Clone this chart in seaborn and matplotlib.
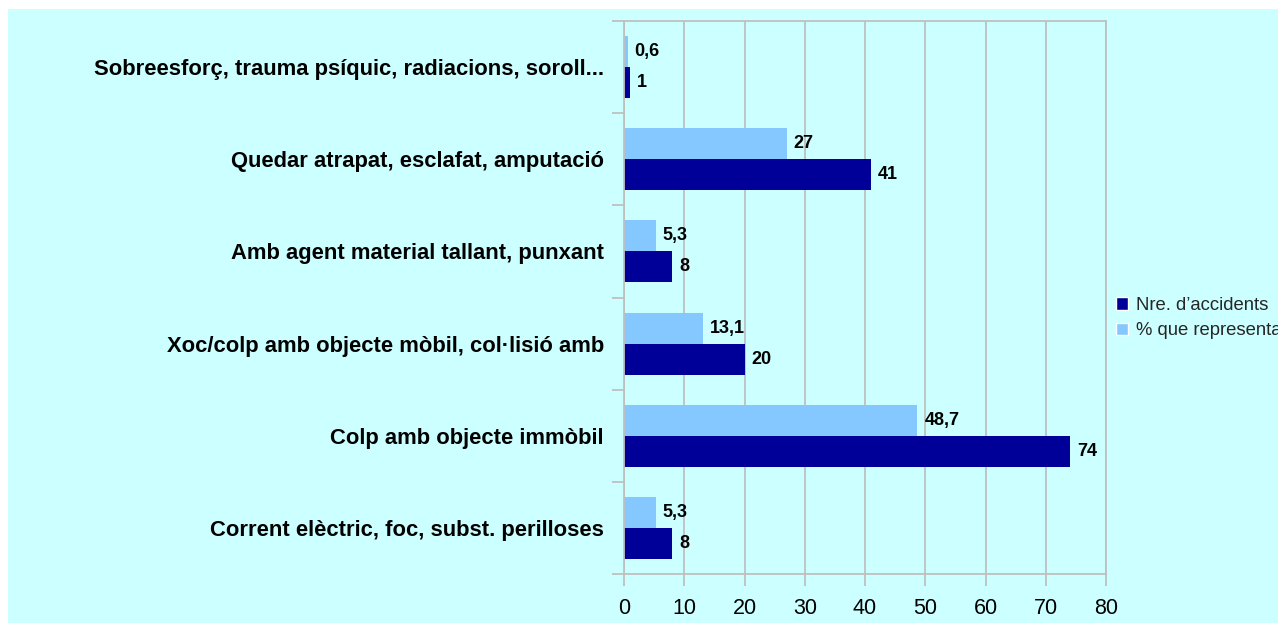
import numpy as np
import pandas as pd
import matplotlib
matplotlib.use("Agg")
import matplotlib.pyplot as plt
from matplotlib.patches import Patch, Rectangle
import seaborn as sns

categories = [
    "Sobreesforç, trauma psíquic, radiacions, soroll...",
    "Quedar atrapat, esclafat, amputació",
    "Amb agent material tallant, punxant",
    "Xoc/colp amb objecte mòbil, col·lisió amb",
    "Colp amb objecte immòbil",
    "Corrent elèctric, foc, subst. perilloses",
]
nre_accidents = [1, 41, 8, 20, 74, 8]
pct_representa = [0.6, 27, 5.3, 13.1, 48.7, 5.3]
nre_name = "Nre. d\u2019accidents"
pct_name = "% que representa"

dark = "#000099"
light = "#85C8FF"
panel = "#CCFFFF"
grid_c = "#BFBFBF"

df = pd.DataFrame({
    "categoria": categories * 2,
    "valor": nre_accidents + pct_representa,
    "serie": [nre_name] * len(categories) + [pct_name] * len(categories),
})

sns.set_theme(style="white")
plt.rcParams["font.family"] = ["Liberation Sans", "DejaVu Sans"]

fig = plt.figure(figsize=(12.78, 6.23), dpi=100)
fig.patch.set_facecolor("white")
fig.patches.append(Rectangle((8 / 1278, 0), 1, 1 - 9 / 623, transform=fig.transFigure,
                             facecolor=panel, edgecolor="none", zorder=-5))

ax = fig.add_axes([624 / 1278, 1 - 574 / 623, 482 / 1278, 553 / 623])
ax.set_facecolor(panel)

sns.barplot(data=df, y="categoria", x="valor", hue="serie", hue_order=[pct_name, nre_name],
            palette=[light, dark], orient="h", width=0.674, saturation=1,
            legend=False, ax=ax, edgecolor="none", linewidth=0)

# etiquetes amb coma decimal
for cont, vals in zip(ax.containers, [pct_representa, nre_accidents]):
    labs = [f"{v:g}".replace(".", ",") for v in vals]
    ax.bar_label(cont, labels=labs, padding=5, fontsize=13, fontweight="bold", color="black")

ax.set_xlim(0, 80)
ax.set_xticks(range(0, 81, 10))
ax.set_ylim(5.5, -0.5)
ax.set_xlabel("")
ax.set_ylabel("")
ax.set_yticks(np.arange(-0.5, 6, 1), minor=True)
ax.tick_params(axis="y", which="major", length=0, pad=14.5, labelsize=15.8)
for t in ax.get_yticklabels():
    t.set_fontweight("bold")
    t.set_color("black")
ax.tick_params(axis="y", which="minor", left=True, length=8.5, color=grid_c, width=1.3)
ax.tick_params(axis="x", which="major", bottom=True, length=8.5, color=grid_c, width=1.3,
               pad=8.5, labelsize=15.5, labelcolor="black")
ax.xaxis.grid(True, color=grid_c, linewidth=1.3)
ax.set_axisbelow(True)
for s in ax.spines.values():
    s.set_color(grid_c)
    s.set_linewidth(1.3)

handles = [Patch(facecolor=dark, label=nre_name), Patch(facecolor=light, label=pct_name)]
fig.legend(handles=handles, loc="center left", bbox_to_anchor=(1099 / 1278, 1 - 318 / 623),
           frameon=False, fontsize=13.3, handlelength=0.65, handleheight=0.65,
           handletextpad=0.45, labelspacing=0.45)

fig.savefig("out.png", dpi=100, facecolor="white")
